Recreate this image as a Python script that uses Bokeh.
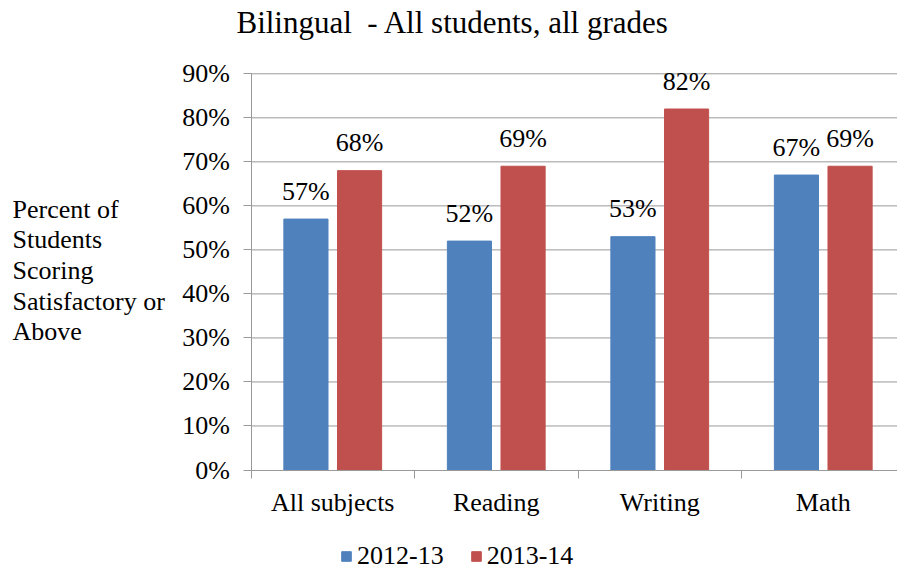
from bokeh.plotting import figure
from bokeh.models import (ColumnDataSource, Range1d, FixedTicker, NumeralTickFormatter,
                          Legend, LegendItem, Label)
from bokeh.core.properties import value
from bokeh.embed import file_html
from bokeh.resources import INLINE

categories = ["All subjects", "Reading", "Writing", "Math"]
series_names = ["2012-13", "2013-14"]
values_2012 = [0.57, 0.52, 0.53, 0.67]
values_2013 = [0.68, 0.69, 0.82, 0.69]
y_ticks = [0.0, 0.1, 0.2, 0.3, 0.4, 0.5, 0.6, 0.7, 0.8, 0.9]
title_text = "Bilingual\u00a0 - All students, all grades"
ylabel_text = "Percent of\nStudents\nScoring\nSatisfactory or\nAbove"

FONT = "Liberation Serif"
BLUE = "#4F81BD"
RED = "#C0504D"
GRID = "#999999"

W, H = 897, 569
# plot-area geometry (pixels) used only to set the visible ranges
AX_X, AX_Y0, AX_Y90 = 250.5, 469.5, 73.3
PX_CAT = 163.5
PX_UNIT_Y = (AX_Y0 - AX_Y90) / 0.9

x_start = -AX_X / PX_CAT
x_end = (W - AX_X) / PX_CAT
y_start = -(H - AX_Y0) / PX_UNIT_Y
y_end = AX_Y0 / PX_UNIT_Y

centers = [i + 0.5 for i in range(len(categories))]
off = 0.164
bw = 0.27

src_a = ColumnDataSource(dict(x=[c - off for c in centers], top=values_2012,
                              lab=[f"{round(v*100)}%" for v in values_2012]))
src_b = ColumnDataSource(dict(x=[c + off for c in centers], top=values_2013,
                              lab=[f"{round(v*100)}%" for v in values_2013]))
grid_src = ColumnDataSource(dict(y=y_ticks[1:]))

p = figure(width=W, height=H, output_backend="svg", toolbar_location=None,
           x_range=Range1d(x_start, x_end), y_range=Range1d(y_start, y_end),
           min_border=0)
p.outline_line_color = None
p.background_fill_color = "white"
p.grid.visible = False

# horizontal gridlines across the plot area
p.segment(x0=0, x1=x_end, y0="y", y1="y", source=grid_src, line_color=GRID, line_width=1)

r1 = p.vbar(x="x", top="top", width=bw, source=src_a, fill_color=BLUE, line_color=BLUE)
r2 = p.vbar(x="x", top="top", width=bw, source=src_b, fill_color=RED, line_color=RED)

for s in (src_a, src_b):
    p.text(x="x", y="top", text="lab", source=s, text_align="center",
           text_baseline="alphabetic", y_offset=-28, text_font=value(FONT),
           text_font_size="26px", text_color="black")

# y axis
ya = p.yaxis[0]
ya.fixed_location = 0
ya.bounds = (0, 0.9)
ya.ticker = FixedTicker(ticks=y_ticks)
ya.formatter = NumeralTickFormatter(format="0%")
ya.axis_line_color = GRID
ya.major_tick_line_color = GRID
ya.major_tick_out = 8
ya.major_tick_in = 0
ya.minor_tick_line_color = None
ya.major_label_standoff = 13
ya.major_label_text_font = FONT
ya.major_label_text_font_size = "26px"
ya.major_label_text_color = "black"

# x axis
xa = p.xaxis[0]
xa.fixed_location = 0
xa.bounds = (0, x_end)
xa.ticker = FixedTicker(ticks=centers, minor_ticks=[0, 1, 2, 3])
xa.major_label_overrides = {c: n for c, n in zip(centers, categories)}
xa.axis_line_color = GRID
xa.major_tick_line_color = None
xa.major_tick_out = 0
xa.major_tick_in = 0
xa.minor_tick_line_color = GRID
xa.minor_tick_out = 8
xa.minor_tick_in = 0
xa.major_label_standoff = 10
xa.major_label_text_font = FONT
xa.major_label_text_font_size = "26px"
xa.major_label_text_color = "black"

# title
p.add_layout(Label(x=452.5, y=H - 22, x_units="screen", y_units="screen", text=title_text,
                   text_align="center", text_baseline="alphabetic", text_font=FONT,
                   text_font_size="31px", text_color="black"))

# y-axis description
p.add_layout(Label(x=12, y=H - 194, x_units="screen", y_units="screen", text=ylabel_text,
                   text_align="left", text_baseline="top", text_font=FONT,
                   text_font_size="26px", text_color="black", text_line_height=1.06))

legend = Legend(items=[LegendItem(label=series_names[0], renderers=[r1]),
                       LegendItem(label=series_names[1], renderers=[r2])],
                orientation="horizontal", location=(340, -2),
                glyph_width=12, glyph_height=12, label_standoff=5, spacing=26,
                padding=0, margin=0, border_line_color=None,
                background_fill_alpha=0, label_text_font=FONT,
                label_text_font_size="26px", label_text_color="black")
p.add_layout(legend, "center")

open("out.html", "w").write(file_html(p, INLINE))
